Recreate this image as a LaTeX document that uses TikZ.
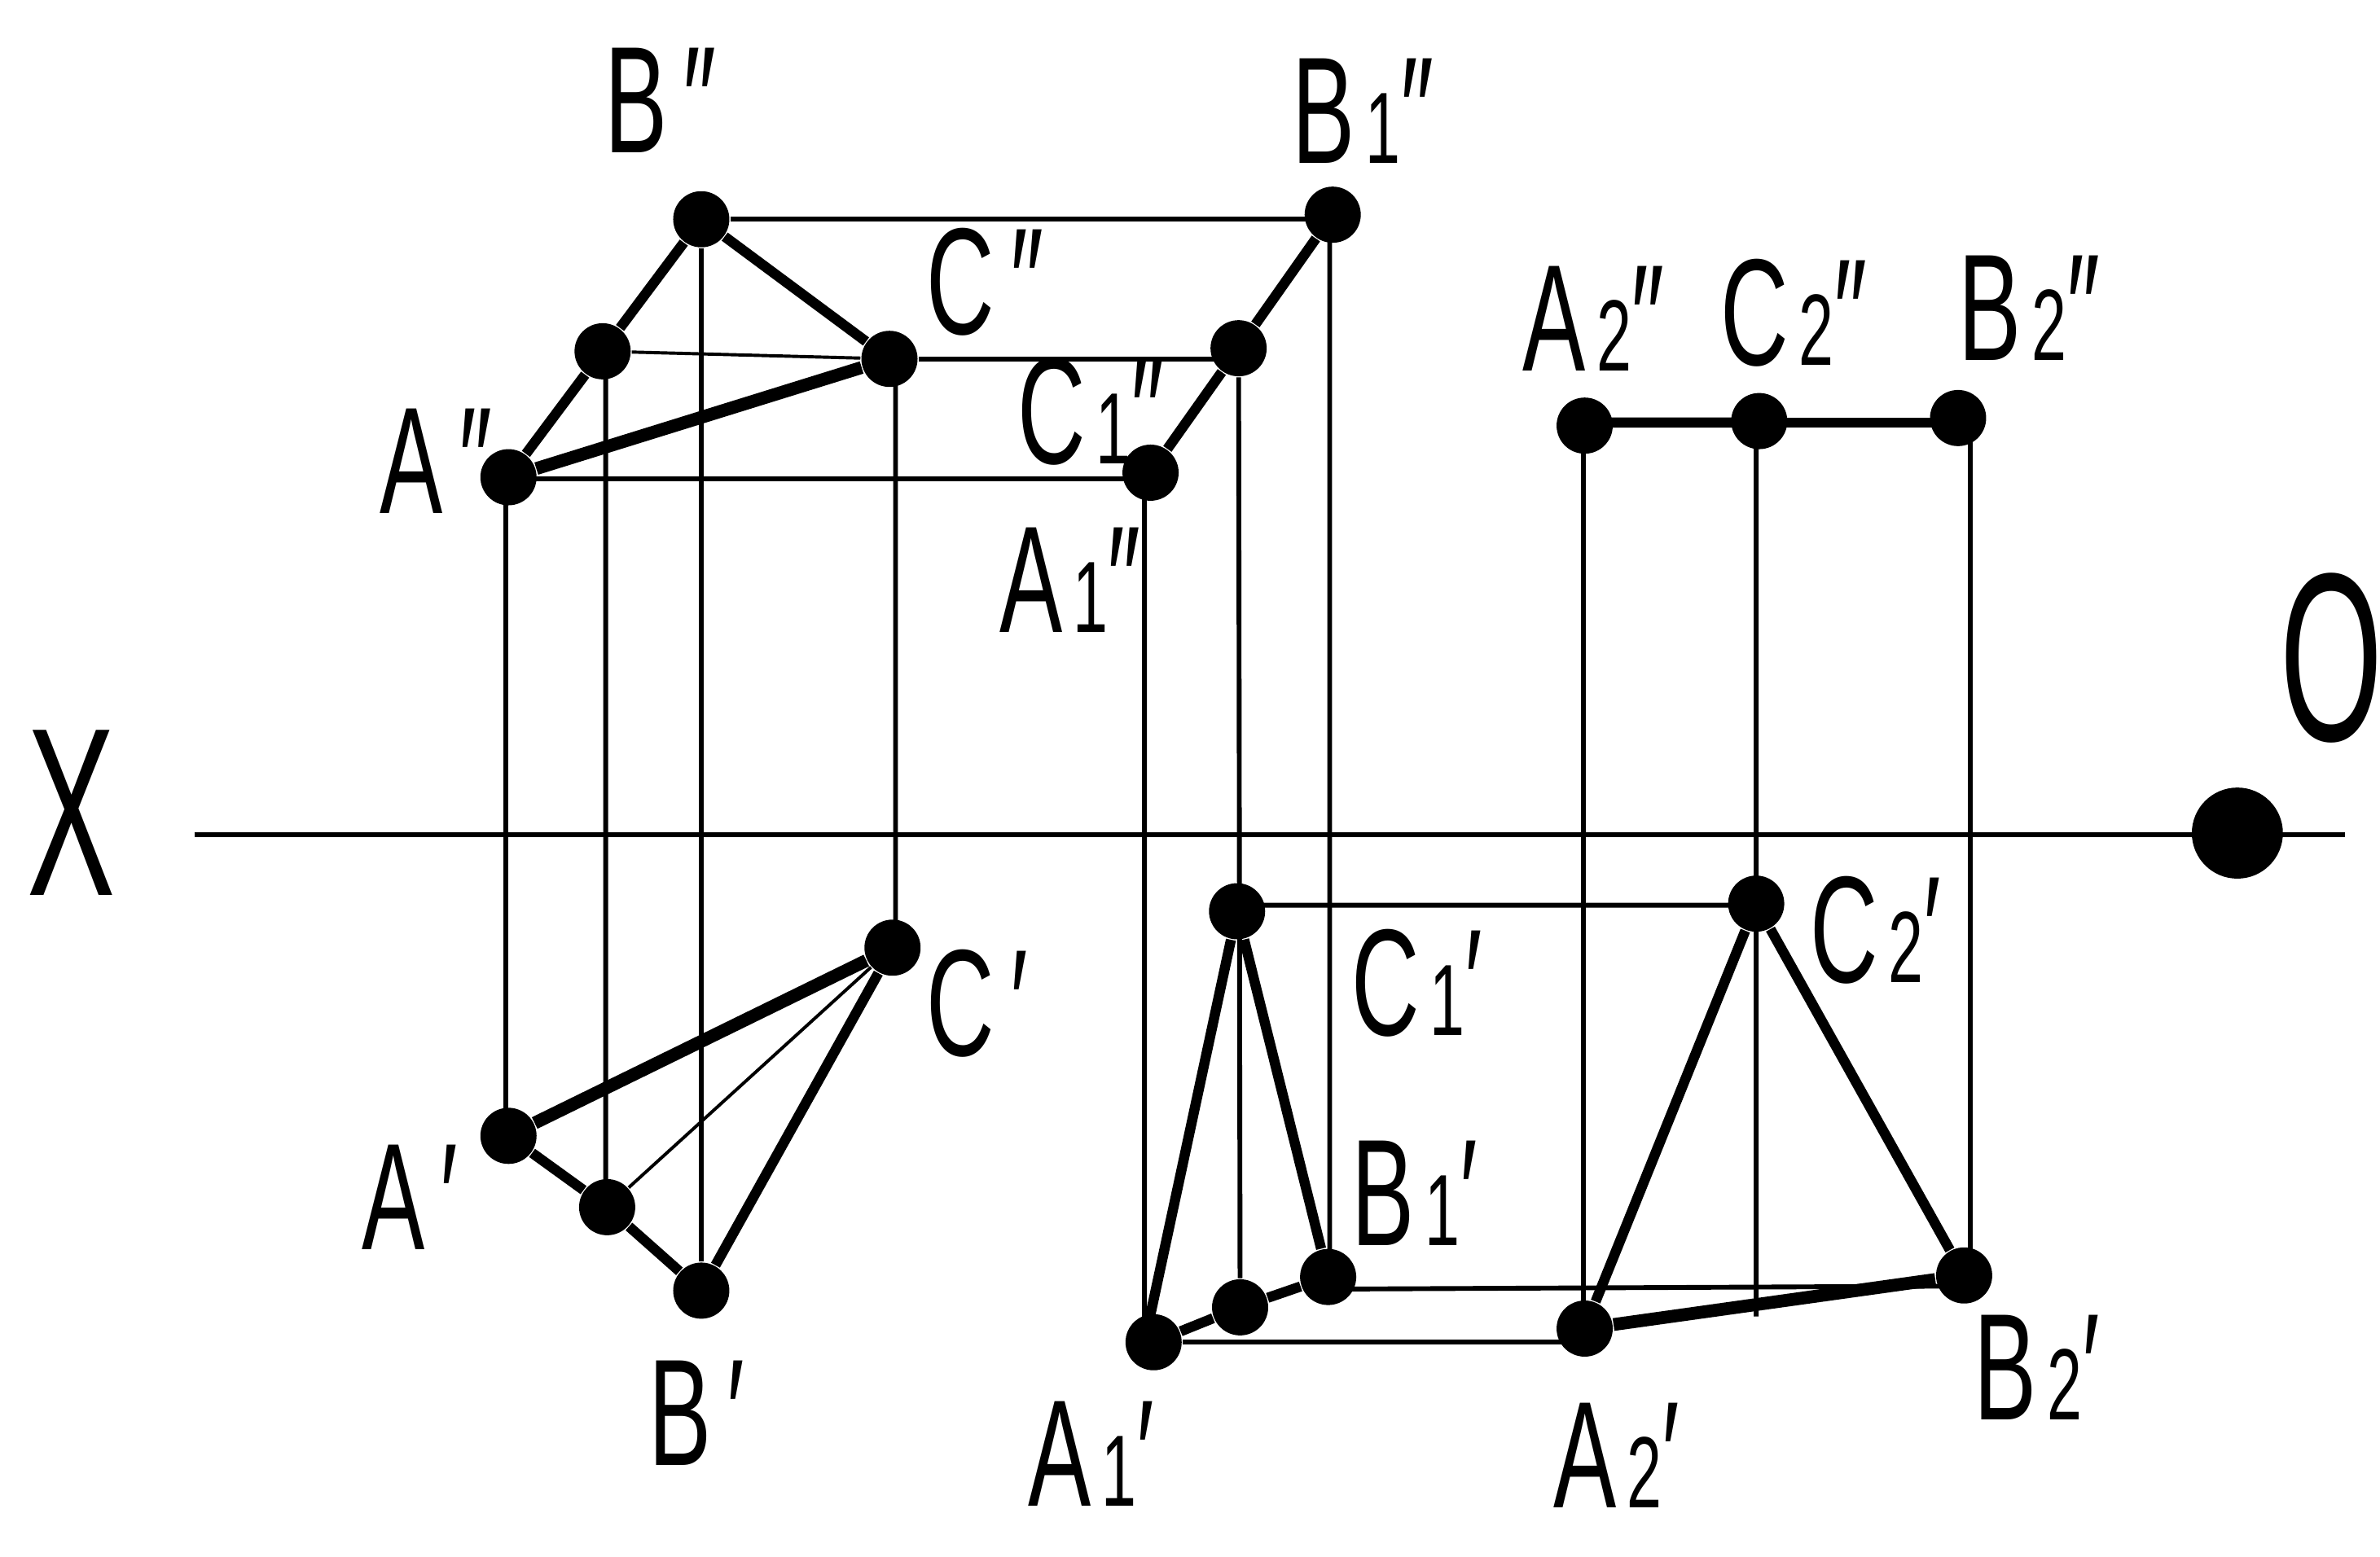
\documentclass[tikz,border=0pt]{standalone}
\usepackage{fontspec}
\setmainfont{Liberation Sans}
\newcommand{\subdig}[1]{{\fontsize{19}{19}\selectfont\,#1}}
\tikzset{
  point/.style={circle,fill=black,inner sep=0pt,minimum size=0.37cm},
  lbl/.style={anchor=base west,inner sep=0pt,font=\fontsize{28.5}{30}\selectfont,xscale=0.62,transform shape},
  axislbl/.style={inner sep=0pt,font=\fontsize{45}{48}\selectfont,xscale=0.55,transform shape},
  thinln/.style={line width=0.9pt},
  edge/.style={line width=1.9pt},
  heavy/.style={line width=2.4pt}
}
\begin{document}
\begin{tikzpicture}
    \useasboundingbox (0,0) rectangle (15.68,10.255);
    % axis
    \coordinate (axisL) at (1.28,4.755);
    \coordinate (axisR) at (15.45,4.755);
    \draw [thinln] (axisL)--(axisR);
    \node [point,minimum size=0.6cm] (origin) at (14.74,4.765) {};
    \node [axislbl] (xlabel) at (0.47,4.90) {X};
    \node [axislbl] (olabel) at (15.36,5.92) {O};
    % points, upper projection
    \node [point] (Bpp) at (4.62,8.81) {};
    \node [point] (Dpp) at (3.97,7.94) {};
    \node [point] (Cpp) at (5.86,7.89) {};
    \node [point] (App) at (3.35,7.11) {};
    \node [point] (Bipp) at (8.78,8.84) {};
    \node [point] (Cipp) at (8.16,7.96) {};
    \node [point] (Aipp) at (7.58,7.14) {};
    \node [point] (Aiipp) at (10.44,7.45) {};
    \node [point] (Ciipp) at (11.59,7.48) {};
    \node [point] (Biipp) at (12.90,7.50) {};
    % points, lower projection
    \node [point] (Cp) at (5.88,4.01) {};
    \node [point] (Ap) at (3.35,2.77) {};
    \node [point] (Dp) at (4.00,2.30) {};
    \node [point] (Bp) at (4.62,1.75) {};
    \node [point] (Cip) at (8.15,4.25) {};
    \node [point] (Dip) at (8.17,1.64) {};
    \node [point] (Bip) at (8.75,1.84) {};
    \node [point] (Aip) at (7.60,1.41) {};
    \node [point] (Ciip) at (11.57,4.30) {};
    \node [point] (Aiip) at (10.44,1.50) {};
    \node [point] (Biip) at (12.94,1.85) {};
    \coordinate (Cend) at (11.57,1.58);
    % projection lines
    \draw [thinln] (Bpp)--(Bp);
    \draw [thinln] ([xshift=0.02cm]Dpp.center)--([xshift=-0.01cm]Dp.center);
    \draw [thinln] ([xshift=-0.02cm]App.center)--([xshift=-0.02cm]Ap.center);
    \draw [thinln] ([xshift=0.04cm]Cpp.center)--([xshift=0.02cm]Cp.center);
    \draw [thinln] ([xshift=-0.04cm]Aipp.center)--([xshift=-0.06cm]Aip.center);
    \draw [thinln] (Cipp)--(Dip);
    \draw [thinln] ([xshift=-0.02cm]Bipp.center)--([xshift=0.01cm]Bip.center);
    \draw [thinln] ([xshift=-0.01cm]Aiipp.center)--([xshift=-0.01cm]Aiip.center);
    \draw [thinln] ([xshift=-0.02cm]Ciipp.center)--(Cend);
    \draw [thinln] ([xshift=0.08cm]Biipp.center)--([xshift=0.04cm]Biip.center);
    % link lines
    \draw [thinln] (Bpp)--([yshift=-0.03cm]Bipp.center);
    \draw [line width=0.6pt] (Dpp)--(Cpp);
    \draw [thinln] (Cpp)--([yshift=-0.07cm]Cipp.center);
    \draw [thinln] ([yshift=-0.01cm]App.center)--([yshift=-0.04cm]Aipp.center);
    \draw [thinln] ([yshift=0.04cm]Cip.center)--([yshift=-0.01cm]Ciip.center);
    \draw [thinln] ([yshift=-0.08cm]Bip.center)--([yshift=-0.07cm]Biip.center);
    \draw [thinln] (Aip)--([yshift=-0.09cm]Aiip.center);
    % triangles
    \draw [edge] (App)--(Dpp);
    \draw [edge] (Dpp)--(Bpp);
    \draw [edge] (Bpp)--(Cpp);
    \draw [heavy] (App)--(Cpp);
    \draw [edge] (Aipp)--(Cipp);
    \draw [edge] (Cipp)--(Bipp);
    \draw [edge] ([yshift=0.02cm]Aiipp.center)--([yshift=-0.01cm]Ciipp.center);
    \draw [edge] ([yshift=-0.01cm]Ciipp.center)--([yshift=-0.03cm]Biipp.center);
    \draw [heavy] (Ap)--(Cp);
    \draw [edge] (Ap)--(Dp);
    \draw [edge] (Dp)--(Bp);
    \draw [edge] (Bp)--(Cp);
    \draw [line width=0.6pt] (Dp)--(Cp);
    \draw [edge] ([xshift=-0.06cm]Aip.center)--(Cip);
    \draw [edge] (Cip)--(Bip);
    \draw [edge] (Aip)--(Dip);
    \draw [edge] (Dip)--(Bip);
    \draw [edge] (Aiip)--(Ciip);
    \draw [edge] (Ciip)--(Biip);
    \draw [heavy] (Aiip)--(Biip);
    % labels
    \node [lbl] (tBpp) at (3.98,9.25) {B\,″};
    \node [lbl] (tBipp) at (8.51,9.18) {B\subdig{1}″};
    \node [lbl] (tCpp) at (6.10,8.05) {C\,″};
    \node [lbl] (tCipp) at (6.70,7.20) {C\subdig{1}″};
    \node [lbl] (tApp) at (2.50,6.87) {A\,″};
    \node [lbl] (tAipp) at (6.58,6.09) {A\subdig{1}″};
    \node [lbl] (tAiipp) at (10.03,7.81) {A\subdig{2}″};
    \node [lbl] (tCiipp) at (11.33,7.85) {C\subdig{2}″};
    \node [lbl] (tBiipp) at (12.90,7.88) {B\subdig{2}″};
    \node [lbl] (tCp) at (6.10,3.30) {C\,′};
    \node [lbl] (tAp) at (2.38,2.02) {A\,′};
    \node [lbl] (tBp) at (4.27,0.60) {B\,′};
    \node [lbl] (tCip) at (8.90,3.43) {C\subdig{1}′};
    \node [lbl] (tBip) at (8.90,2.05) {B\subdig{1}′};
    \node [lbl] (tAip) at (6.77,0.33) {A\subdig{1}′};
    \node [lbl] (tAiip) at (10.23,0.32) {A\subdig{2}′};
    \node [lbl] (tBiip) at (13.00,0.90) {B\subdig{2}′};
    \node [lbl] (tCiip) at (11.92,3.78) {C\subdig{2}′};
\end{tikzpicture}
\end{document}
